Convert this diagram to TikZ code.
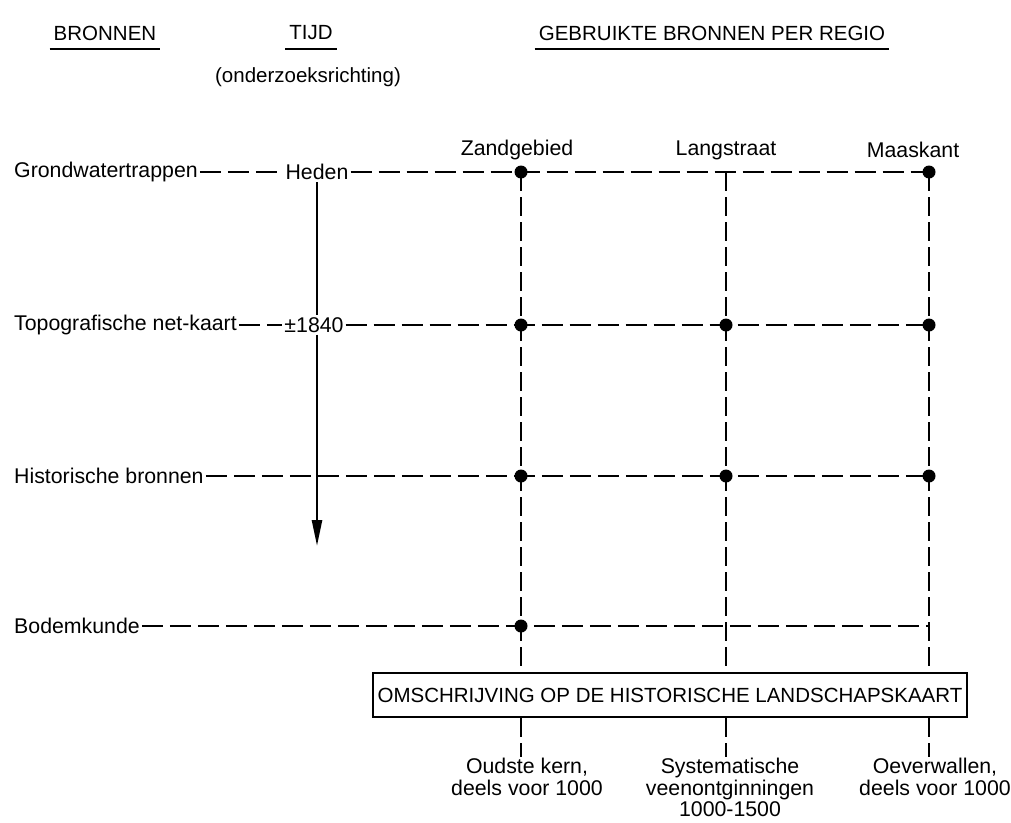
\documentclass[tikz,border=0pt]{standalone}
\usepackage{fontspec}
\setmainfont{Liberation Sans}
\usetikzlibrary{arrows.meta}
\begin{document}
\begin{tikzpicture}[x=1pt,y=-1pt,
  every node/.style={font=\fontsize{21.3}{21.5}\selectfont, inner sep=2pt},
  head/.style={font=\fontsize{20.5}{22}\selectfont},
  lbl/.style={anchor=west},
  hline/.style={line width=2.3pt, dash pattern=on 21pt off 7pt},
  vline/.style={line width=1.6pt, dash pattern=on 19pt off 6pt},
  uline/.style={line width=2pt},
  dot/.style={circle, fill=black, minimum size=13pt, inner sep=0pt},
  boxed/.style={draw, line width=2.2pt, minimum width=594pt, minimum height=44pt, inner sep=0pt, font=\fontsize{20.5}{22}\selectfont},
  arrowline/.style={line width=2.5pt},
  bottomlbl/.style={anchor=north, align=center, inner sep=1pt},
]
\useasboundingbox (0,0) rectangle (1011,822);

% headers
\node[head] (hb) at (105,33) {BRONNEN};
\node[head] (ht) at (311,33) {TIJD};
\node[head] (ho) at (308,77) {(onderzoeksrichting)};
\node[head] (hg) at (712,33) {GEBRUIKTE BRONNEN PER REGIO};
\draw[uline] ([xshift=-2pt,yshift=-7pt]hb.south west) -- ([xshift=2pt,yshift=-7pt]hb.south east);
\draw[uline] ([xshift=-2pt,yshift=-7pt]ht.south west) -- ([xshift=2pt,yshift=-7pt]ht.south east);
\draw[uline] ([xshift=-2pt,yshift=-7pt]hg.south west) -- ([xshift=2pt,yshift=-7pt]hg.south east);

% region labels
\node (zand) at (517,150) {Zandgebied};
\node (lang) at (726,150) {Langstraat};
\node (maas) at (913,150) {Maaskant};

% row labels
\node[lbl] (gw) at (12,172) {Grondwatertrappen};
\node (heden) at (317,172) {Heden};
\node[lbl] (topo) at (12,325) {Topografische net-kaart};
\node (y1840) at (314,325) {±1840};
\node[lbl] (hist) at (12,476) {Historische bronnen};
\node[lbl] (bodem) at (12,626) {Bodemkunde};

% grid points
\coordinate (z1) at (521,172); \coordinate (l1) at (726,172); \coordinate (m1) at (929,172);
\coordinate (z2) at (521,325); \coordinate (l2) at (726,325); \coordinate (m2) at (929,325);
\coordinate (z3) at (521,476); \coordinate (l3) at (726,476); \coordinate (m3) at (929,476);
\coordinate (z4) at (521,626); \coordinate (l4) at (726,626); \coordinate (m4) at (929,626);

% box
\node[boxed] (box) at (670,695) {OMSCHRIJVING OP DE HISTORISCHE LANDSCHAPSKAART};

% bottom labels
\node[bottomlbl] (oud) at (527,757) {Oudste kern,\\deels voor 1000};
\node[bottomlbl] (sys) at (730,757) {Systematische\\veenontginningen\\1000-1500};
\node[bottomlbl] (oev) at (935,757) {Oeverwallen,\\deels voor 1000};

% horizontal rows
\draw[hline] (gw.east) -- (heden.west);
\draw[hline] (heden.east) -- (z1) -- (l1) -- (m1);
\draw[hline] (topo.east) -- (y1840.west);
\draw[hline] (y1840.east) -- (z2) -- (l2) -- (m2);
\draw[hline] (hist.east) -- (z3) -- (l3) -- (m3);
\draw[hline] (bodem.east) -- (z4) -- (l4) -- (m4);

% verticals
\draw[vline] (z1) -- (z1 |- box.north);
\draw[vline] (l1) -- (l1 |- box.north);
\draw[vline] (m1) -- (m1 |- box.north);
\draw[vline] (box.south -| z1) -- (z1 |- oud.north);
\draw[vline] (box.south -| l1) -- (l1 |- sys.north);
\draw[vline] (box.south -| m1) -- (m1 |- oev.north);

% time arrow
\coordinate (tip) at (317,546);
\draw[arrowline] (heden.south) -- (heden.south |- y1840.north);
\draw[arrowline, -{Triangle[length=26pt,width=10pt]}] (heden.south |- y1840.south) -- (tip);

% dots
\foreach \p in {z1,m1,z2,l2,m2,z3,l3,m3,z4}
  \node[dot] (d\p) at (\p) {};
\end{tikzpicture}
\end{document}
